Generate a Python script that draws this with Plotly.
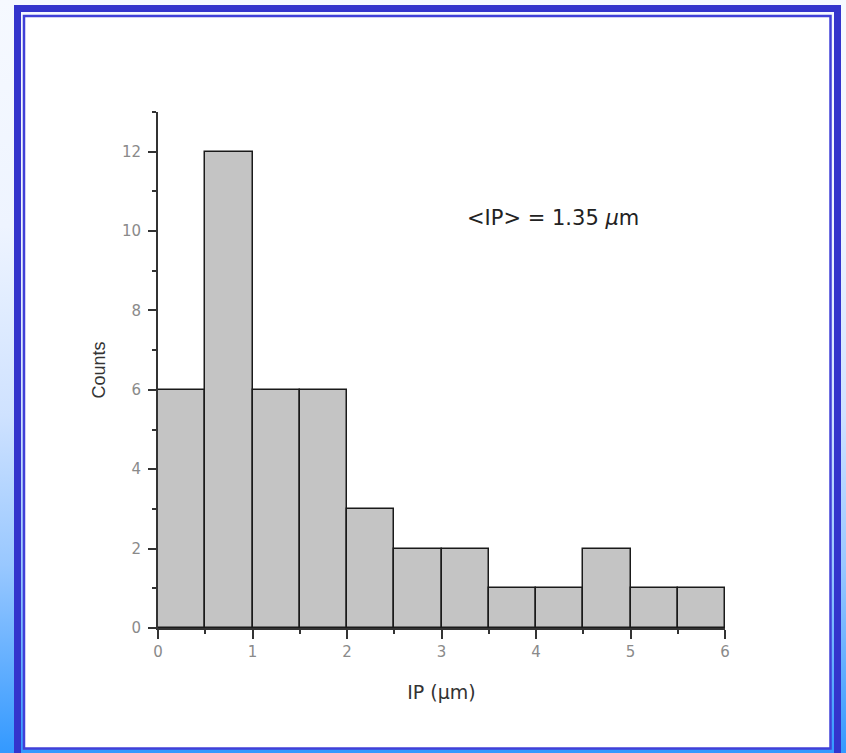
import base64
import plotly.graph_objects as go

# ---- data ----
bin_left = [0.0, 0.5, 1.0, 1.5, 2.0, 2.5, 3.0, 3.5, 4.0, 4.5, 5.0, 5.5]
bin_width = 0.5
counts = [6, 12, 6, 6, 3, 2, 2, 1, 1, 2, 1, 1]
x_ticks = [0, 1, 2, 3, 4, 5, 6]
y_ticks = [0, 2, 4, 6, 8, 10, 12]
annotation_text = "&lt;IP&gt; = 1.35 <i>µ</i>m"

W, H = 846, 753
# page pixel positions of plot area
px_left, px_right, px_top, px_bottom = 158, 725, 112, 628
L = px_left
T = px_top
R = W - px_right
B = H - px_bottom
pw, ph = W - L - R, H - T - B

# decorative background (gradient + double blue frame), in page pixels
svg = f'''<svg xmlns="http://www.w3.org/2000/svg" width="{W}" height="{H}" viewBox="0 0 {W} {H}">
<defs><linearGradient id="g" x1="0" y1="0" x2="0" y2="1">
<stop offset="0" stop-color="#f6f9ff"/>
<stop offset="0.3" stop-color="#eef4ff"/>
<stop offset="0.55" stop-color="#cfe2ff"/>
<stop offset="0.75" stop-color="#99c8ff"/>
<stop offset="1" stop-color="#3399ff"/>
</linearGradient></defs>
<rect x="0" y="0" width="{W}" height="{H}" fill="url(#g)"/>
<rect x="17.5" y="8.5" width="820" height="780" fill="none" stroke="#3434cc" stroke-width="7"/>
<rect x="24" y="16" width="806.5" height="732.5" fill="#ffffff" stroke="#4040d8" stroke-width="2.5"/>
</svg>'''
uri = "data:image/svg+xml;base64," + base64.b64encode(svg.encode()).decode()

centers = [b + bin_width / 2 for b in bin_left]

fig = go.Figure()
fig.add_trace(go.Bar(
    x=centers, y=counts, width=[bin_width] * len(counts),
    marker=dict(color="#c4c4c4", line=dict(color="#1a1a1a", width=1.5)),
    hoverinfo="skip",
))

tickfont = dict(family="DejaVu Sans, sans-serif", size=15, color="#8a8a8a")

fig.update_layout(
    width=W, height=H,
    margin=dict(l=L, r=R, t=T, b=B, pad=0),
    paper_bgcolor="#ffffff",
    plot_bgcolor="rgba(0,0,0,0)",
    showlegend=False,
    bargap=0,
    images=[dict(
        source=uri, xref="paper", yref="paper",
        x=-L / pw, y=1 + T / ph, sizex=W / pw, sizey=H / ph,
        xanchor="left", yanchor="top", sizing="stretch", layer="below",
    )],
    xaxis=dict(
        range=[0, 6], tickvals=x_ticks, ticktext=[str(v) for v in x_ticks],
        showgrid=False, zeroline=False, showline=True, linecolor="#333333", linewidth=2,
        ticks="outside", ticklen=9, tickwidth=1.5, tickcolor="#333333",
        minor=dict(ticks="outside", dtick=0.5, tick0=0, ticklen=4, tickwidth=1.5, tickcolor="#333333", showgrid=False),
        tickfont=tickfont,
        title=dict(text="IP (µm)", font=dict(family="DejaVu Sans, sans-serif", size=19, color="#333333"), standoff=26),
    ),
    yaxis=dict(
        range=[0, 13], tickvals=y_ticks, ticktext=[str(v) for v in y_ticks],
        showgrid=False, zeroline=False, showline=True, linecolor="#333333", linewidth=2,
        ticks="outside", ticklen=8, tickwidth=1.5, tickcolor="#333333",
        minor=dict(ticks="outside", dtick=1, tick0=0, ticklen=4, tickwidth=1.5, tickcolor="#333333", showgrid=False),
        tickfont=tickfont, ticklabelstandoff=4,
        title=dict(text="Counts", font=dict(family="Liberation Sans, Arial, sans-serif", size=18, color="#333333"), standoff=12),
    ),
    annotations=[dict(
        x=3.25, y=10.33, xref="x", yref="y", xanchor="left", yanchor="middle",
        text=annotation_text, showarrow=False,
        font=dict(family="DejaVu Sans, sans-serif", size=21, color="#222222"),
    )],
)

fig.write_html("out.html", config={"displayModeBar": False},
               post_script="document.body.style.margin='0';")
